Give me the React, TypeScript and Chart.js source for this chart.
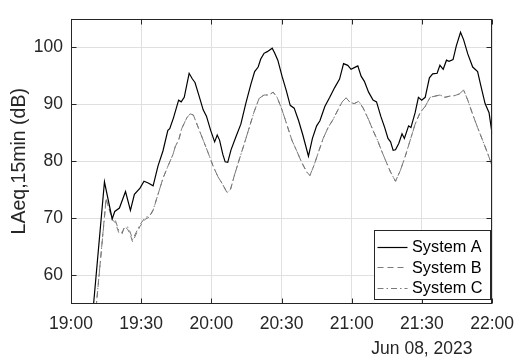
import React, { useEffect, useRef } from 'react';
import { Chart, registerables } from 'chart.js';

Chart.register(...registerables);

// minutes after 19:00
const timesA = [9, 14.3, 17.6, 18.7, 20.7, 23.3, 25.4, 27.1, 29.5, 31.2, 33, 35.1, 37.2, 39.3, 41.4, 42.2, 43.8, 46, 47.1, 48.4, 50.5, 51.9, 53, 54.7, 56.5, 57.9, 59.7, 61.4, 62.5, 63.5, 64.9, 65.9, 67, 68.4, 70.5, 72.6, 74.7, 76.9, 78.5, 80, 81.1, 82.5, 83.9, 86, 87, 88.4, 90.2, 92, 93.7, 95.4, 97.3, 99.1, 101.5, 103.2, 105, 106.4, 108.5, 110.6, 112.7, 114.8, 116.5, 118.3, 119.7, 121.1, 122.6, 124, 125.4, 127.2, 129.1, 130.6, 132.4, 134.1, 135.5, 136.6, 137.7, 138.7, 140.1, 141.5, 142.5, 144.3, 145.3, 147.1, 148.5, 149.9, 151.4, 153.2, 154.6, 156.5, 157.7, 159.1, 160.5, 161.6, 163.3, 164.7, 166.5, 167.8, 169.6, 171.7, 173.8, 175.2, 177, 178.7, 180];
const valuesA = [52, 76.4, 69.9, 71.2, 71.8, 74.7, 71.4, 74.2, 75.3, 76.5, 76.2, 75.7, 79.2, 81.8, 85.4, 85.7, 87.6, 90.7, 90.4, 91.2, 95.4, 94.4, 93.8, 91.5, 89.0, 87.9, 85.4, 83.4, 84.6, 83.7, 81.2, 79.9, 79.8, 82.0, 84.3, 86.5, 90.1, 93.5, 95.7, 96.5, 97.9, 98.9, 99.2, 99.8, 99.0, 97.7, 94.9, 92.4, 89.8, 89.3, 87.1, 84.6, 80.9, 84.0, 86.2, 87.1, 89.6, 91.2, 92.9, 94.4, 97.1, 96.8, 96.1, 96.4, 96.7, 94.9, 94.0, 92.1, 90.7, 90.4, 87.9, 85.9, 84.0, 83.4, 81.9, 82.0, 83.1, 84.8, 84.0, 86.2, 85.9, 88.5, 91.2, 90.7, 91.2, 94.6, 95.3, 95.4, 96.8, 96.1, 97.7, 97.5, 97.8, 100.2, 102.6, 101.3, 98.8, 96.5, 95.7, 93.2, 90.1, 88.5, 84.8];

const timesB = [10, 15, 17.6, 19, 20.4, 21.8, 22.8, 24.2, 25.3, 26.3, 27.8, 29.5, 31.6, 33.7, 35.1, 37.2, 39.3, 41.5, 43.6, 44.6, 46.1, 47.3, 49.5, 50.9, 52.3, 54.4, 56.5, 58.6, 60.7, 62.8, 64.9, 66.7, 68.2, 69.9, 72, 74.1, 76.2, 78.3, 80.4, 82.5, 84.6, 86.4, 88.1, 90.2, 92.2, 94.4, 96.5, 98.6, 100.8, 102.1, 103.8, 105.7, 107.8, 109.9, 112, 114.1, 115.9, 117.6, 119.3, 121.1, 123, 124.9, 127.2, 129.1, 131, 132.6, 134.5, 136.6, 138.7, 140.8, 142.9, 145, 147.1, 149.2, 151.4, 153.5, 155.6, 157.7, 159.8, 161.9, 164, 166.1, 167.8, 169.6, 171.7, 173.8, 175.9, 178, 180];
const valuesB = [51, 73.5, 69.8, 69.2, 67.5, 67.2, 68.6, 68.1, 67.2, 65.9, 67.2, 68.6, 69.8, 70.3, 71.4, 74.2, 77.0, 79.2, 81.2, 82.6, 83.8, 85.7, 87.6, 88.3, 88.1, 85.9, 83.7, 81.5, 79.2, 77.3, 75.9, 74.5, 75.1, 77.6, 80.4, 83.1, 85.9, 88.7, 91.0, 91.6, 91.6, 92.1, 91.2, 89.0, 86.5, 83.7, 81.8, 79.8, 78.1, 77.5, 79.2, 81.5, 84.0, 85.9, 87.3, 89.0, 90.4, 91.1, 90.3, 90.1, 90.5, 89.3, 87.3, 85.4, 83.7, 82.0, 80.1, 78.1, 76.5, 78.4, 80.9, 83.7, 86.5, 88.5, 89.6, 91.2, 91.4, 91.6, 91.2, 91.4, 91.5, 91.8, 92.5, 90.7, 88.2, 85.9, 83.7, 81.5, 79.2];

const timesC = [10, 15, 17.6, 19, 20.4, 21.8, 22.8, 24.2, 25.3, 26.3, 27.8, 29.5, 31.6, 33.7, 35.1, 37.2, 39.3, 41.5, 43.6, 44.6, 46.1, 47.3, 49.5, 50.9, 52.3, 54.4, 56.5, 58.6, 60.7, 62.8, 64.9, 66.7, 68.2, 69.9, 72, 74.1, 76.2, 78.3, 80.4, 82.5, 84.6, 86.4, 88.1, 90.2, 92.2, 94.4, 96.5, 98.6, 100.8, 102.1, 103.8, 105.7, 107.8, 109.9, 112, 114.1, 115.9, 117.6, 119.3, 121.1, 123, 124.9, 127.2, 129.1, 131, 132.6, 134.5, 136.6, 138.7, 140.8, 142.9, 145, 147.1, 149.2, 151.4, 153.5, 155.6, 157.7, 159.8, 161.9, 164, 166.1, 167.8, 169.6, 171.7, 173.8, 175.9, 178, 180];
const valuesC = [51.3, 73.2, 70.1, 69.6, 67.9, 67.5, 68.3, 68.5, 67.6, 66.3, 67.5, 68.9, 70.1, 70.5, 71.5, 74.2, 77.0, 79.2, 81.2, 82.6, 83.8, 85.7, 87.6, 88.3, 88.1, 85.9, 83.7, 81.5, 79.2, 77.3, 75.9, 74.5, 75.1, 77.6, 80.4, 83.1, 85.9, 88.7, 91.0, 91.6, 91.6, 92.1, 91.2, 89.0, 86.5, 83.7, 81.8, 79.8, 78.1, 77.5, 79.2, 81.5, 84.0, 85.9, 87.3, 89.0, 90.4, 91.1, 90.3, 90.1, 90.5, 89.3, 87.3, 85.4, 83.7, 82.0, 80.1, 78.1, 76.5, 78.4, 80.9, 83.7, 86.5, 88.5, 89.6, 91.2, 91.4, 91.6, 91.2, 91.4, 91.5, 91.8, 92.5, 90.7, 88.2, 85.9, 83.7, 81.5, 79.2];

const seriesNames = ['System A', 'System B', 'System C'];
const xTicks = [0, 30, 60, 90, 120, 150, 180];
const yTicks = [60, 70, 80, 90, 100];
const xMin = 0;
const xMax = 180;
const yMin = 55;
const yMax = 105;
const startHour = 19;
const dateLabel = 'Jun 08, 2023';
const dateLabelAt = 150;
const yTitle = 'LAeq,15min (dB)';

const FONT = '"Liberation Sans", Arial, sans-serif';
const AXIS_COLOR = '#262626';

function fmtTime(m: number): string {
  const h = startHour + Math.floor(m / 60);
  const mm = Math.round(m % 60);
  return `${h}:${String(mm).padStart(2, '0')}`;
}

function toPoints(xs: number[], ys: number[]) {
  return xs.map((x, i) => ({ x, y: ys[i] }));
}

const framePlugin = {
  id: 'frameAndLegend',
  afterDraw(chart: any) {
    const { ctx, chartArea: a, scales } = chart;
    ctx.save();
    // box
    ctx.strokeStyle = AXIS_COLOR;
    ctx.lineWidth = 1;
    ctx.setLineDash([]);
    const L = Math.round(a.left) + 0.5;
    const R = Math.round(a.right) - 0.5;
    const T = Math.round(a.top) + 0.5;
    const B = Math.round(a.bottom) - 0.5;
    ctx.strokeRect(L, T, R - L, B - T);
    // inward ticks
    const tl = 5;
    ctx.beginPath();
    xTicks.forEach((v) => {
      const px = Math.round(scales.x.getPixelForValue(v)) + 0.5;
      ctx.moveTo(px, B); ctx.lineTo(px, B - tl);
      ctx.moveTo(px, T); ctx.lineTo(px, T + tl);
    });
    yTicks.forEach((v) => {
      const py = Math.round(scales.y.getPixelForValue(v)) + 0.5;
      ctx.moveTo(L, py); ctx.lineTo(L + tl, py);
      ctx.moveTo(R, py); ctx.lineTo(R - tl, py);
    });
    ctx.stroke();

    // date label
    ctx.fillStyle = AXIS_COLOR;
    ctx.font = `17.5px ${FONT}`;
    ctx.textAlign = 'center';
    ctx.textBaseline = 'alphabetic';
    ctx.fillText(dateLabel, scales.x.getPixelForValue(dateLabelAt), chart.height - 9);

    // legend
    ctx.font = `16.3px ${FONT}`;
    const rowH = 20.5;
    const lineLen = 30;
    const boxW = 116;
    const boxH = 69;
    const x0 = Math.round(a.right - 2 - boxW) + 0.5;
    const y0 = Math.round(a.bottom - 5 - boxH) + 0.5;
    ctx.fillStyle = '#ffffff';
    ctx.fillRect(x0, y0, boxW, boxH);
    ctx.strokeStyle = AXIS_COLOR;
    ctx.lineWidth = 1;
    ctx.setLineDash([]);
    ctx.strokeRect(x0, y0, boxW, boxH);
    chart.data.datasets.forEach((ds: any, i: number) => {
      const cy = y0 + 6 + rowH * (i + 0.5);
      ctx.strokeStyle = ds.borderColor;
      ctx.lineWidth = ds.borderWidth;
      ctx.setLineDash(ds.borderDash || []);
      ctx.beginPath();
      ctx.moveTo(x0 + 3, Math.round(cy) + 0.5);
      ctx.lineTo(x0 + 3 + lineLen, Math.round(cy) + 0.5);
      ctx.stroke();
      ctx.setLineDash([]);
      ctx.fillStyle = '#000000';
      ctx.textAlign = 'left';
      ctx.textBaseline = 'middle';
      ctx.fillText(ds.label, x0 + 3 + lineLen + 4.5, cy + 1);
    });
    ctx.restore();
  },
};

export default function App() {
  const canvasRef = useRef<HTMLCanvasElement | null>(null);

  useEffect(() => {
    if (!canvasRef.current) return;
    const chart = new Chart(canvasRef.current, {
      type: 'line',
      data: {
        datasets: [
          {
            label: seriesNames[0],
            data: toPoints(timesA, valuesA),
            borderColor: '#000000',
            borderWidth: 1.2,
            pointRadius: 0,
            tension: 0,
            fill: false,
          },
          {
            label: seriesNames[1],
            data: toPoints(timesB, valuesB),
            borderColor: '#7a7a7a',
            borderWidth: 1,
            borderDash: [6, 4],
            pointRadius: 0,
            tension: 0,
            fill: false,
          },
          {
            label: seriesNames[2],
            data: toPoints(timesC, valuesC),
            borderColor: '#7a7a7a',
            borderWidth: 1,
            borderDash: [6, 3, 1.5, 3],
            pointRadius: 0,
            tension: 0,
            fill: false,
          },
        ],
      },
      options: {
        animation: false,
        responsive: true,
        maintainAspectRatio: false,
        layout: { padding: { top: 6, right: 26, left: 0, bottom: 0 } },
        plugins: {
          legend: { display: false },
          tooltip: { enabled: false },
        },
        scales: {
          x: {
            type: 'linear',
            min: xMin,
            max: xMax,
            afterBuildTicks: (scale: any) => {
              scale.ticks = xTicks.map((v) => ({ value: v }));
            },
            afterFit: (scale: any) => {
              scale.height = 59;
            },
            ticks: {
              autoSkip: false,
              maxRotation: 0,
              padding: 10,
              color: AXIS_COLOR,
              font: { family: FONT, size: 17.5 },
              callback: (v: any) => fmtTime(Number(v)),
            },
            grid: {
              color: '#e0e0e0',
              drawTicks: false,
              lineWidth: 1,
            },
            border: { display: false },
          },
          y: {
            type: 'linear',
            min: yMin,
            max: yMax,
            afterBuildTicks: (scale: any) => {
              scale.ticks = yTicks.map((v) => ({ value: v }));
            },
            afterFit: (scale: any) => {
              scale.width = 71;
            },
            ticks: {
              padding: 8,
              color: AXIS_COLOR,
              font: { family: FONT, size: 17.5 },
              callback: (v: any) => String(v),
            },
            grid: {
              color: '#e0e0e0',
              drawTicks: false,
              lineWidth: 1,
            },
            border: { display: false },
            title: {
              display: true,
              text: yTitle,
              color: AXIS_COLOR,
              font: { family: FONT, size: 19.5 },
              padding: { top: 8, bottom: 0 },
            },
          },
        },
      },
      plugins: [framePlugin],
    });
    return () => chart.destroy();
  }, []);

  return (
    <div style={{ position: 'fixed', left: 0, top: 0, width: 524, height: 363, background: '#ffffff' }}>
      <canvas ref={canvasRef} />
    </div>
  );
}
